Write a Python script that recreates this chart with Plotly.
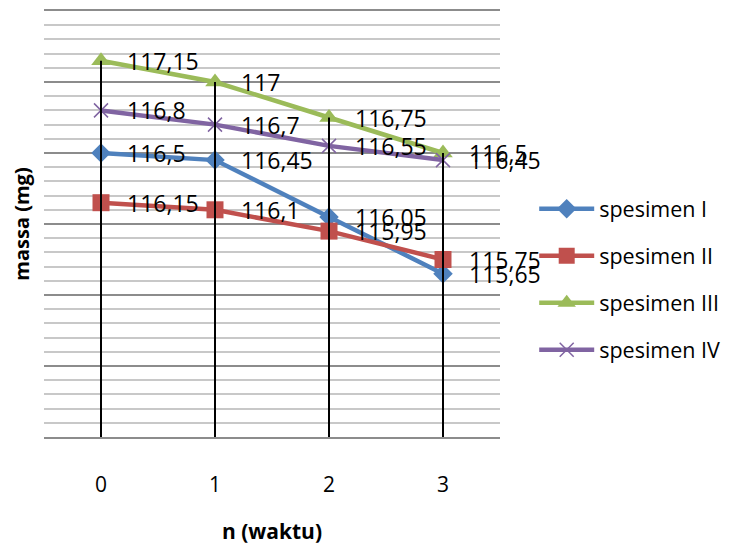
import plotly.graph_objects as go

waktu = [0, 1, 2, 3]
tick_labels = ["0", "1", "2", "3"]
series_names = ["spesimen I", "spesimen II", "spesimen III", "spesimen IV"]
spesimen_1 = [116.5, 116.45, 116.05, 115.65]
spesimen_2 = [116.15, 116.1, 115.95, 115.75]
spesimen_3 = [117.15, 117.0, 116.75, 116.5]
spesimen_4 = [116.8, 116.7, 116.55, 116.45]

Y_MIN, Y_MAX = 114.5, 117.5

colors = ["#4F81BD", "#C0504D", "#9BBB59", "#8064A2"]
symbols = ["diamond", "square", "triangle-up", "x-thin"]
msizes = [15, 17, 17, 14]
all_series = [spesimen_1, spesimen_2, spesimen_3, spesimen_4]

FONT = "Open Sans"

def fmt(v):
    return f"{v:g}".replace(".", ",")

fig = go.Figure()
for i, (name, vals) in enumerate(zip(series_names, all_series)):
    marker = dict(symbol=symbols[i], size=msizes[i], color=colors[i])
    if symbols[i] == "x-thin":
        marker["line"] = dict(color=colors[i], width=1.5)
    fig.add_trace(go.Scatter(
        x=waktu, y=vals, name=name, mode="lines+markers",
        line=dict(color=colors[i], width=4.5),
        marker=marker, legendgroup=name,
    ))

# drop lines from the highest point to the axis
dx, dy = [], []
for j, xv in enumerate(waktu):
    top = max(s[j] for s in all_series)
    dx += [xv, xv, None]
    dy += [top, Y_MIN, None]
fig.add_trace(go.Scatter(x=dx, y=dy, mode="lines", line=dict(color="black", width=2),
                         showlegend=False, hoverinfo="skip"))

annotations = []
for vals in all_series:
    for xv, v in zip(waktu, vals):
        annotations.append(dict(x=xv, y=v, xref="x", yref="y", text=fmt(v),
                                showarrow=False, xanchor="left", yanchor="middle",
                                xshift=24, font=dict(family=FONT, size=23, color="black")))

fig.update_layout(
    width=736, height=537,
    margin=dict(l=36, r=244, t=3, b=108),
    paper_bgcolor="white", plot_bgcolor="white",
    font=dict(family=FONT, color="black"),
    annotations=annotations,
    legend=dict(x=1.075, y=0.37, xanchor="left", yanchor="middle",
                font=dict(family=FONT, size=21.5, color="black"),
                tracegroupgap=16, itemwidth=55, bgcolor="rgba(0,0,0,0)"),
    xaxis=dict(range=[-0.5, 3.5], tickvals=waktu, ticktext=tick_labels,
               showgrid=False, zeroline=False, showline=True, mirror=True,
               linecolor="#8C8C8C", linewidth=2, ticks="",
               automargin=False,
               tickfont=dict(family=FONT, size=21), ticklabelstandoff=28,
               title=dict(text="<b>n (waktu)</b>", font=dict(family=FONT, size=21), standoff=32)),
    yaxis=dict(range=[Y_MIN, Y_MAX], dtick=0.5, tick0=Y_MIN, showticklabels=False,
               showgrid=True, gridcolor="#8C8C8C", gridwidth=2, zeroline=False,
               showline=False, ticks="", automargin=False,
               minor=dict(dtick=0.1, showgrid=True, gridcolor="#C8C8C8", gridwidth=2),
               title=dict(text="<b>massa (mg)</b>", font=dict(family=FONT, size=20), standoff=10)),
)

fig.write_html("out.html")
